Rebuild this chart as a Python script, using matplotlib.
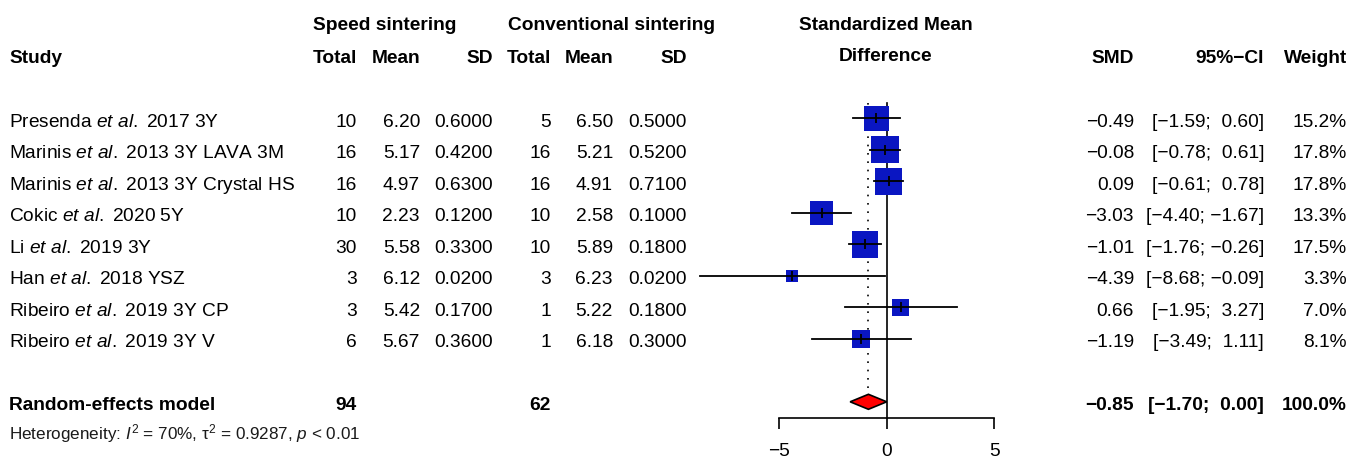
import matplotlib
matplotlib.use("Agg")
import matplotlib.pyplot as plt
from matplotlib import transforms
from matplotlib.patches import Polygon

plt.rcParams['font.family'] = ['Liberation Sans', 'DejaVu Sans']
plt.rcParams['mathtext.fontset'] = 'custom'
plt.rcParams['mathtext.rm'] = 'Liberation Sans'
plt.rcParams['mathtext.it'] = 'Liberation Sans:italic'
plt.rcParams['mathtext.bf'] = 'Liberation Sans:bold'

# data
authors = ["Presenda", "Marinis", "Marinis", "Cokic", "Li", "Han", "Ribeiro", "Ribeiro"]
details = ["2017 3Y", "2013 3Y LAVA 3M", "2013 3Y Crystal HS", "2020 5Y",
           "2019 3Y", "2018 YSZ", "2019 3Y CP", "2019 3Y V"]
speed_total = [10, 16, 16, 10, 30, 3, 3, 6]
speed_mean = [6.20, 5.17, 4.97, 2.23, 5.58, 6.12, 5.42, 5.67]
speed_sd = [0.60, 0.42, 0.63, 0.12, 0.33, 0.02, 0.17, 0.36]
conv_total = [5, 16, 16, 10, 10, 3, 1, 1]
conv_mean = [6.50, 5.21, 4.91, 2.58, 5.89, 6.23, 5.22, 6.18]
conv_sd = [0.50, 0.52, 0.71, 0.10, 0.18, 0.02, 0.18, 0.30]
smd = [-0.49, -0.08, 0.09, -3.03, -1.01, -4.39, 0.66, -1.19]
ci_low = [-1.59, -0.78, -0.61, -4.40, -1.76, -8.68, -1.95, -3.49]
ci_high = [0.60, 0.61, 0.78, -1.67, -0.26, -0.09, 3.27, 1.11]
weight = [15.2, 17.8, 17.8, 13.3, 17.5, 3.3, 7.0, 8.1]

model_smd = -0.85
model_low = -1.70
model_high = 0.00
model_speed_total = 94
model_conv_total = 62
heterogeneity = r"Heterogeneity: $\mathit{I}^2$ = 70%, τ$^2$ = 0.9287, $\mathit{p}$ < 0.01"
x_ticks = [-5, 0, 5]

W, H = 1352, 459
fig = plt.figure(figsize=(W / 100, H / 100), dpi=100)
ax = fig.add_axes([0, 0, 1, 1])
ax.patch.set_alpha(0)

# pixel mapping of the forest panel: x0 at 886.7 px, 21.5 px per unit; rows 31.5 px apart
X0, XS = 886.7, 21.5
Y0, YS = 118.3, 31.5
ax.set_xlim(-X0 / XS, (W - X0) / XS)
ax.set_ylim((H - Y0) / YS, -Y0 / YS)

MODEL_ROW = 9
rows = list(range(len(smd)))


def fmt(v, nd=2):
    return f"{v:.{nd}f}".replace("-", "\u2212")


def ci_str(lo, hi):
    return "[" + fmt(lo) + "; " + fmt(hi).rjust(5) + "]"


tr = transforms.blended_transform_factory(fig.transFigure, ax.transData)
FS = 13.8
BL = 8.4 / YS  # baseline offset from row centre


def col(xpix, y, s, ha="right", **kw):
    ax.text(xpix / W, y + BL, s, transform=tr, ha=ha, va="baseline", fontsize=FS, **kw)


def head(xpix, ypix, s, ha="right"):
    fig.text(xpix / W, 1 - ypix / H, s, ha=ha, va="baseline", fontsize=FS, fontweight="bold")


# headers
head(313, 30, "Speed sintering", ha="left")
head(508, 30, "Conventional sintering", ha="left")
head(886, 30, "Standardized Mean", ha="center")
head(886, 61, "Difference", ha="center")
head(9, 63, "Study", ha="left")
for xp, lab in [(357, "Total"), (420, "Mean"), (493, "SD"), (551, "Total"), (613, "Mean"),
                (687, "SD"), (1134, "SMD"), (1264, "95%\u2212CI"), (1347, "Weight")]:
    head(xp, 63, lab)

# study rows
for i in rows:
    col(9, i, authors[i] + r" $\mathit{et\ al.}$ " + details[i], ha="left")
    col(357, i, str(speed_total[i]))
    col(420, i, fmt(speed_mean[i]))
    col(493, i, fmt(speed_sd[i], 4))
    col(551, i, str(conv_total[i]))
    col(613, i, fmt(conv_mean[i]))
    col(687, i, fmt(conv_sd[i], 4))
    col(1134, i, fmt(smd[i]))
    col(1264, i, ci_str(ci_low[i], ci_high[i]))
    col(1347, i, f"{weight[i]:.1f}%")

# pooled row
col(9, MODEL_ROW, "Random-effects model", ha="left", fontweight="bold")
col(357, MODEL_ROW, str(model_speed_total), fontweight="bold")
col(551, MODEL_ROW, str(model_conv_total), fontweight="bold")
col(1134, MODEL_ROW, fmt(model_smd), fontweight="bold")
col(1264, MODEL_ROW, ci_str(model_low, model_high), fontweight="bold")
col(1347, MODEL_ROW, "100.0%", fontweight="bold")
fig.text(9 / W, 1 - 439.5 / H, heterogeneity, ha="left", va="baseline", fontsize=12.3, color="#1a1a1a")

# reference lines
axis_y = (417.7 - Y0) / YS
top_y = (103 - Y0) / YS
ax.plot([0, 0], [top_y, axis_y], color="black", lw=1.2, zorder=1)
ax.plot([model_smd, model_smd], [top_y, (394 - Y0) / YS], color="black", lw=1.2,
        ls=(0, (1, 4)), zorder=1)

# squares, CIs and estimate ticks
ax.scatter(smd, rows, s=[21.5 * w for w in weight], marker="s", color="#0a16c2",
           linewidths=0, zorder=2)
for i in rows:
    ax.plot([ci_low[i], ci_high[i]], [i, i], color="black", lw=1.3, zorder=3)
ax.plot(smd, rows, ls="none", marker="|", ms=7, mew=1.3, color="black", zorder=4)

# pooled diamond
h = 7.5 / YS
ax.add_patch(Polygon([(model_low, MODEL_ROW), (model_smd, MODEL_ROW - h),
                      (model_high, MODEL_ROW), (model_smd, MODEL_ROW + h)],
                     closed=True, facecolor="#ff0000", edgecolor="black", lw=1.2, zorder=3))

# x axis
for s in ["left", "right", "top"]:
    ax.spines[s].set_visible(False)
ax.spines["bottom"].set_position(("data", axis_y))
ax.spines["bottom"].set_bounds(x_ticks[0], x_ticks[-1])
ax.spines["bottom"].set_linewidth(1.2)
ax.set_yticks([])
ax.set_xticks(x_ticks)
ax.tick_params(axis="x", direction="out", length=8.2, width=1.2, pad=10.0, labelsize=FS)

fig.savefig("out.png", dpi=100)
